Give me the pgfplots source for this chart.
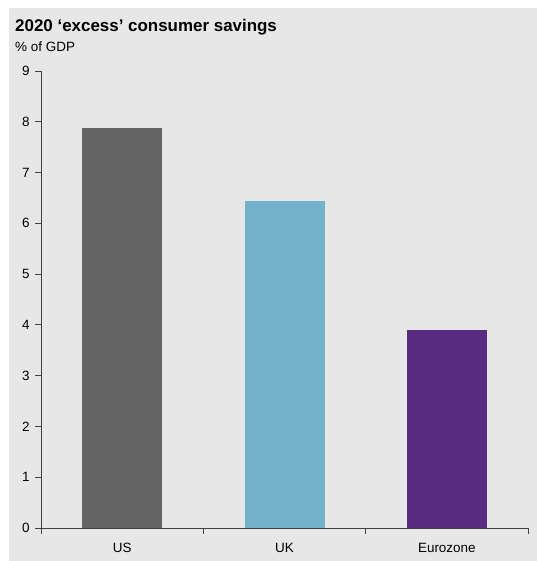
\documentclass[border=0pt]{standalone}
\usepackage{pgfplots}
\pgfplotsset{compat=1.18}
\usepackage{fontspec}
\setmainfont{Liberation Sans}
\definecolor{panel}{HTML}{E7E7E7}
\definecolor{axisc}{HTML}{404040}
\definecolor{usc}{HTML}{646464}
\definecolor{ukc}{HTML}{72B2CA}
\definecolor{euc}{HTML}{582A80}
\begin{document}
\begin{tikzpicture}[x=1bp,y=1bp]
\fill[white] (0,0) rectangle (537,561);
\fill[panel] (9,0) rectangle (537,553);
\node[anchor=base west,inner sep=0pt,font=\fontsize{17}{19}\selectfont\bfseries] at (15,529) {2020 ‘excess’ consumer savings};
\node[anchor=base west,inner sep=0pt,font=\fontsize{13.5}{15}\selectfont] at (15,509) {\% of GDP};
\begin{axis}[
  at={(41bp,33bp)}, anchor=south west,
  scale only axis, width=487bp, height=457bp,
  xmin=-0.5, xmax=2.5, ymin=0, ymax=9,
  axis x line*=bottom, axis y line*=left,
  axis line style={axisc, line width=0.9pt},
  ytick={0,1,...,9},
  xtick={0,1,2}, xticklabels={US,UK,Eurozone},
  minor xtick={-0.5,0.5,1.5,2.5},
  major x tick style={draw=none},
  minor x tick style={axisc, line width=0.9pt},
  y tick style={axisc, line width=0.9pt},
  tick align=outside,
  major tick length=6bp, minor tick length=6bp,
  ytick pos=left, xtick pos=bottom,
  /pgf/number format/assume math mode=true,
  ticklabel style={font=\fontsize{13.5}{15}\selectfont, text=black},
  yticklabel style={xshift=-2bp},
  xticklabel style={yshift=-6bp},
  clip=false,
]
\addplot[ybar, bar width=80bp, bar shift=0pt, fill=usc, draw=none] coordinates {(0,7.87)};
\addplot[ybar, bar width=80bp, bar shift=0pt, fill=ukc, draw=none] coordinates {(1,6.44)};
\addplot[ybar, bar width=80bp, bar shift=0pt, fill=euc, draw=none] coordinates {(2,3.89)};
\end{axis}
\pgfresetboundingbox
\useasboundingbox (0,0) rectangle (537,561);
\end{tikzpicture}
\end{document}
